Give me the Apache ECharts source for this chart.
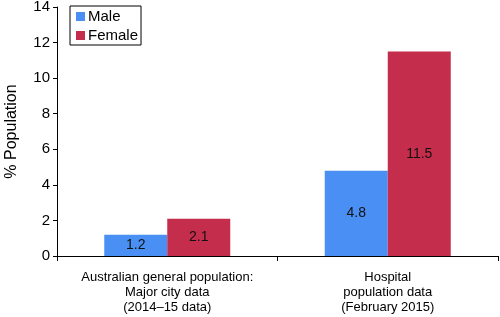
<!DOCTYPE html>
<html><head><meta charset="utf-8">
<script src="https://cdn.jsdelivr.net/npm/echarts@6/dist/echarts.min.js"></script>
<style>html,body{margin:0;padding:0;background:#fff}#c{width:500px;height:317px}</style>
</head><body><div id="c"></div>
<script>
const categories = ['Australian general population:\nMajor city data\n(2014\u201315 data)', 'Hospital\npopulation data\n(February 2015)'];
const male = [1.2, 4.8];
const female = [2.1, 11.5];
const yTicks = [0, 2, 4, 6, 8, 10, 12, 14];

const font = 'Liberation Sans, Arial, Helvetica, sans-serif';
const chart = echarts.init(document.getElementById('c'));
const lbl = {show: true, position: 'inside', color: '#111', fontSize: 14, fontFamily: font};
chart.setOption({
  animation: false,
  grid: {left: 57, right: 2, top: 7, bottom: 61, containLabel: false, outerBoundsMode: 'none'},
  legend: {
    orient: 'vertical', left: 70, top: 6, itemWidth: 9, itemHeight: 9, itemGap: 4,
    padding: [3, 3, 2, 6], borderColor: '#000', borderWidth: 1,
    icon: 'rect',
    textStyle: {fontSize: 15, color: '#000', fontFamily: font, padding: [0, 0, 0, -2]},
    data: ['Male', 'Female']
  },
  xAxis: {
    type: 'category', data: categories,
    axisLine: {lineStyle: {color: '#000', width: 1}},
    axisTick: {show: true, length: 5, lineStyle: {color: '#000'}},
    axisLabel: {color: '#000', fontSize: 13, lineHeight: 15, fontFamily: font, margin: 14, interval: 0, hideOverlap: false}
  },
  yAxis: {
    type: 'value', min: yTicks[0], max: yTicks[yTicks.length - 1], interval: 2,
    name: '% Population', nameLocation: 'middle', nameGap: 37,
    nameTextStyle: {fontSize: 16, color: '#000', fontFamily: font},
    axisLine: {show: true, lineStyle: {color: '#000', width: 1}},
    axisTick: {show: true, length: 4, lineStyle: {color: '#000'}},
    axisLabel: {color: '#000', fontSize: 15, fontFamily: font, margin: 7},
    splitLine: {show: false}
  },
  series: [
    {name: 'Male', type: 'bar', data: male, barWidth: 63, barGap: '0%', itemStyle: {color: '#4a90f4'}, label: lbl},
    {name: 'Female', type: 'bar', data: female, barWidth: 63, barGap: '0%', itemStyle: {color: '#c42d4b'}, label: lbl}
  ]
});
</script></body></html>
